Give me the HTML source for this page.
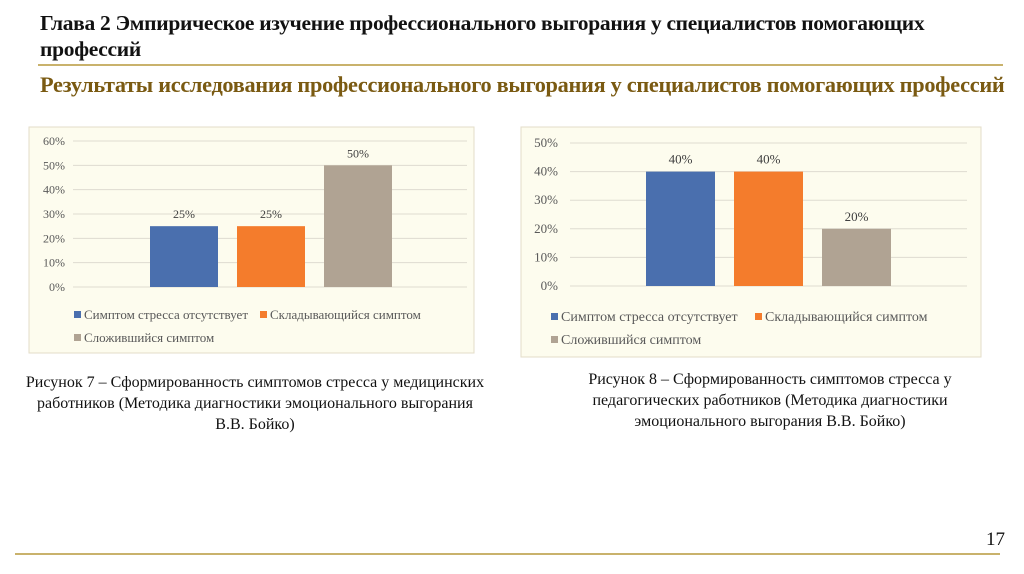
<!DOCTYPE html>
<html><head><meta charset="utf-8">
<style>
body{margin:0;width:1024px;height:574px;background:#fff;position:relative;overflow:hidden;font-family:"Liberation Serif",serif}
.t{position:absolute;margin:0}
</style></head><body>
<div class="t" style="left:40px;top:10px;width:950px;font-size:21.5px;font-weight:bold;line-height:26px;color:#111;letter-spacing:-0.3px">Глава 2 Эмпирическое изучение профессионального выгорания у специалистов помогающих профессий</div>
<div style="position:absolute;left:38px;top:64px;width:965px;height:2px;background:#c9b26c"></div>
<div class="t" style="left:40px;top:72px;font-size:22.3px;font-weight:bold;color:#7a5a12;letter-spacing:-0.3px;white-space:nowrap">Результаты исследования профессионального выгорания у специалистов помогающих профессий</div>
<svg id="svg" width="1024" height="574" style="position:absolute;left:0;top:0"></svg>
<div class="t" style="left:0px;top:372px;width:510px;text-align:center;font-size:16px;line-height:21px;color:#111">Рисунок 7 – Сформированность симптомов стресса у медицинских<br>работников (Методика диагностики эмоционального выгорания<br>В.В. Бойко)</div>
<div class="t" style="left:520px;top:369px;width:500px;text-align:center;font-size:16px;line-height:21px;color:#111">Рисунок 8 – Сформированность симптомов стресса у<br>педагогических работников (Методика диагностики<br>эмоционального выгорания В.В. Бойко)</div>
<div class="t" style="left:986px;top:529px;font-size:19px;color:#111">17</div>
<div style="position:absolute;left:15px;top:553px;width:985px;height:2px;background:#c9b26c"></div>
<script>
const categories=["Симптом стресса отсутствует","Складывающийся симптом","Сложившийся симптом"];
const colors=["#4a6fae","#f47c2c","#b0a393"];
const values1=[25,25,50];
const ticks1=[0,10,20,30,40,50,60];
const values2=[40,40,20];
const ticks2=[0,10,20,30,40,50];
const NS="http://www.w3.org/2000/svg";
const svg=document.getElementById('svg');
function mk(tag,a,p){const e=document.createElementNS(NS,tag);for(const k in a)e.setAttribute(k,a[k]);(p||svg).appendChild(e);return e;}
function chart(cfg,values,ticks,id){
  const g=mk('g',{});
  
  
  const bg=mk('rect',{x:cfg.bx,y:cfg.by,width:cfg.bw,height:cfg.bh,fill:'#fdfcee',stroke:'#e3ddc8'},g);
  
  
  const max=ticks[ticks.length-1];
  const y=v=>cfg.y0-(cfg.y0-cfg.yTop)*v/max;
  ticks.forEach(t=>{
    const l=mk('line',{x1:cfg.gx0,x2:cfg.gx1,y1:y(t),y2:y(t),stroke:'#dedbd0','stroke-width':1},g);
    
    
    const tx=mk('text',{x:cfg.lx,y:y(t)+4,'text-anchor':'end','font-size':cfg.fs,fill:'#595959','font-family':'Liberation Serif'},g);
    tx.textContent=t+'%';
    
    
  });
  values.forEach((v,i)=>{
    const x=cfg.bar0+i*cfg.step;
    const r=mk('rect',{x:x,y:y(v),width:cfg.barW,height:cfg.y0-y(v),fill:colors[i]},g);
    
    
    const tl=mk('text',{x:x+cfg.barW/2,y:y(v)-8,'text-anchor':'middle','font-size':cfg.fs,fill:'#404040','font-family':'Liberation Serif'},g);
    tl.textContent=v+'%';
    
    
  });
  const pos=[[cfg.legX,cfg.legY],[cfg.legX2,cfg.legY],[cfg.legX,cfg.legY+23]];
  categories.forEach((c,i)=>{
    const [lx,ly]=pos[i];
    const s=mk('rect',{x:lx,y:ly-8,width:7,height:7,fill:colors[i]},g);
    
    
    const t=mk('text',{x:lx+10,y:ly,'font-size':cfg.lfs,fill:'#595959','font-family':'Liberation Serif'},g);
    t.textContent=c;
    
    
  });
}
chart({bx:29,by:127,bw:445,bh:226,y0:287,yTop:141,gx0:73,gx1:467,lx:65,fs:12,lfs:13,bar0:150,step:87,barW:68,legX:74,legX2:260,legY:319},values1,ticks1,'chart-medical');
chart({bx:521,by:127,bw:460,bh:230,y0:286,yTop:143,gx0:570,gx1:967,lx:558,fs:13,lfs:14,bar0:646,step:88,barW:69,legX:551,legX2:755,legY:321},values2,ticks2,'chart-teachers');
</script>
</body></html>
